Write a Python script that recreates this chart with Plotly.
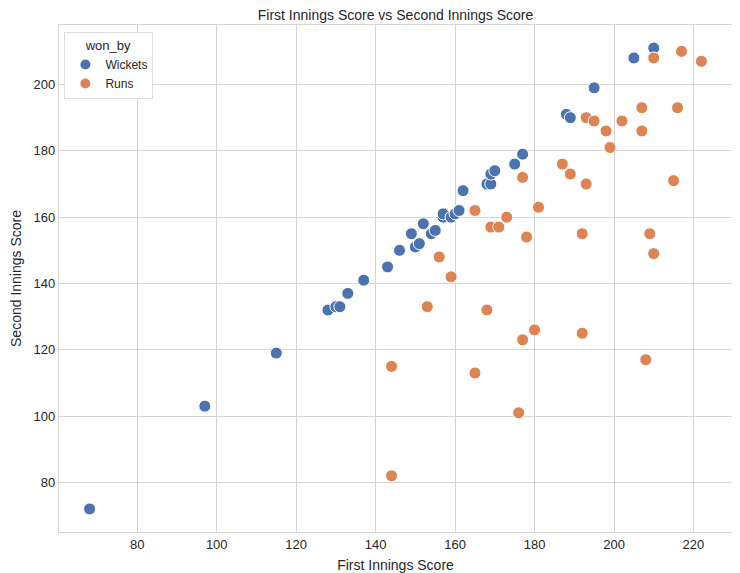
import plotly.graph_objects as go

# first / second innings totals, split by how the match was won
wickets_first = [68, 97, 115, 128, 130, 131, 133, 137, 143, 146, 149, 150, 151,
                 152, 154, 155, 157, 157, 159, 160, 161, 162, 168, 169, 169, 170,
                 175, 177, 188, 189, 195, 205, 210]
wickets_second = [72, 103, 119, 132, 133, 133, 137, 141, 145, 150, 155, 151, 152,
                  158, 155, 156, 160, 161, 160, 161, 162, 168, 170, 170, 173, 174,
                  176, 179, 191, 190, 199, 208, 211]

runs_first = [144, 144, 153, 165, 176, 168, 177, 180, 192, 208, 156, 159, 169,
              171, 178, 192, 209, 210, 165, 173, 177, 181, 210, 217, 222, 207,
              216, 193, 195, 202, 198, 207, 199, 187, 189, 193, 215]
runs_second = [115, 82, 133, 113, 101, 132, 123, 126, 125, 117, 148, 142, 157,
               157, 154, 155, 155, 149, 162, 160, 172, 163, 208, 210, 207, 193,
               193, 190, 189, 189, 186, 186, 181, 176, 173, 170, 171]

x_ticks = [80, 100, 120, 140, 160, 180, 200, 220]
y_ticks = [80, 100, 120, 140, 160, 180, 200]

text_col = "#262626"
grid_col = "#d5d5d5"

fig = go.Figure()
fig.add_trace(go.Scatter(
    x=wickets_first, y=wickets_second, mode="markers", name="Wickets",
    marker=dict(color="#4C72B0", size=12, line=dict(color="white", width=1)),
))
fig.add_trace(go.Scatter(
    x=runs_first, y=runs_second, mode="markers", name="Runs",
    marker=dict(color="#DD8452", size=12, line=dict(color="white", width=1)),
))

axis_common = dict(
    showgrid=True, gridcolor=grid_col, gridwidth=1,
    showline=True, linecolor=grid_col, linewidth=1.2, mirror=True,
    zeroline=False, ticks="", automargin=False,
    tickfont=dict(size=13, color=text_col),
)

# page body has an 8px margin, so the figure is a little smaller than the window
fig.update_layout(
    width=732, height=565,
    margin=dict(l=51, r=8, t=17, b=41),
    paper_bgcolor="white", plot_bgcolor="white",
    font=dict(family="Liberation Sans, Arial, sans-serif", color=text_col),
    title=dict(text="First Innings Score vs Second Innings Score",
               xref="paper", x=0.5, xanchor="center",
               yref="container", y=1, yanchor="top", pad=dict(t=2),
               font=dict(size=14, color=text_col)),
    xaxis=dict(range=[60.3, 229.7], tickvals=x_ticks,
               title=dict(text="First Innings Score",
                          font=dict(size=14, color=text_col)),
               **axis_common),
    yaxis=dict(range=[65.05, 217.95], tickvals=y_ticks,
               title=dict(text="Second Innings Score",
                          font=dict(size=14, color=text_col)),
               **axis_common),
    legend=dict(
        x=0.008, y=0.986, xanchor="left", yanchor="top",
        bgcolor="white", bordercolor="#dcdcdc", borderwidth=1,
        font=dict(size=12, color=text_col),
        title=dict(text="won_by", side="top center",
                   font=dict(size=13, color=text_col)),
        itemsizing="constant",
    ),
)

fig.write_html("out.html")
